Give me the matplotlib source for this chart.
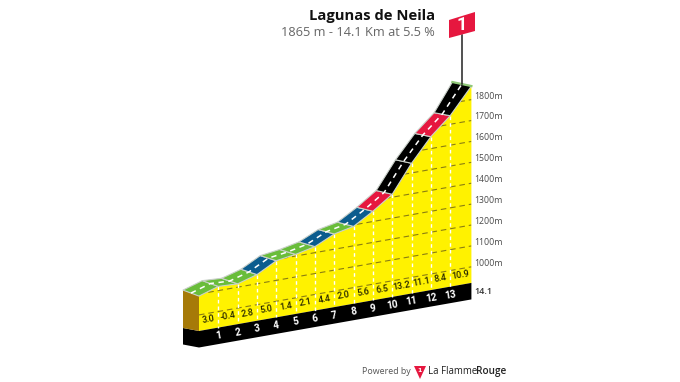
import matplotlib
matplotlib.use("Agg")
import matplotlib.pyplot as plt
from matplotlib.transforms import Affine2D
from matplotlib.patches import Polygon
import numpy as np

title = "Lagunas de Neila"
subtitle = "1865 m - 14.1 Km at 5.5 %"
km = [0, 1, 2, 3, 4, 5, 6, 7, 8, 9, 10, 11, 12, 13, 14.1]
elev = [1090, 1120, 1116, 1144, 1194, 1208, 1229, 1273, 1293, 1349, 1414, 1546, 1657, 1741, 1865]
grades = [3.0, -0.4, 2.8, 5.0, 1.4, 2.1, 4.4, 2.0, 5.6, 6.5, 13.2, 11.1, 8.4, 10.9]
grid_elev = [1000, 1100, 1200, 1300, 1400, 1500, 1600, 1700, 1800]

GREEN, BLUE, RED, BLACK = "#69bd3a", "#0b5c8e", "#e6173f", "#000000"
YELLOW = "#fff200"


def grade_color(g):
    if g < 4:
        return GREEN
    if g < 6:
        return BLUE
    if g < 9:
        return RED
    return BLACK


BASE = 923
proj = Affine2D.from_values(19.32, -3.41, 0, -0.209, 199, 331 + 0.209 * BASE)


def P(k, e):
    return proj.transform(np.column_stack([np.atleast_1d(k), np.atleast_1d(e)]))


def back(pts, k):
    out = np.array(pts, float)
    out[:, 0] += np.interp(k, [0, 9, 13, 14.1], [-16, -16, -16, -19])
    out[:, 1] += np.interp(k, [0, 9, 13, 14.1], [-6, -4, -3, -4])
    return out


fig = plt.figure(figsize=(6.8, 3.82), dpi=100, facecolor="white")
ax = fig.add_axes([0, 0, 1, 1])
ax.set_xlim(0, 680)
ax.set_ylim(382, 0)
ax.axis("off")

km_a = np.array(km, float)
el_a = np.array(elev, float)
front = P(km_a, el_a)
base = P(km_a, np.full(len(km), BASE))
DROP = 16.5

# yellow front face
yellow = Polygon(np.vstack([front, base[::-1]]), closed=True, fc=YELLOW, ec="none", zorder=2)
ax.add_patch(yellow)

# black strip with end cap
bb = base[0] + (-16, -3)
ax.add_patch(Polygon([base[0], base[-1], base[-1] + (0, DROP), base[0] + (0, DROP),
                      bb + (0, DROP), bb], closed=True, fc="black", ec="none", zorder=2))
# brown side face
ax.add_patch(Polygon([front[0], base[0], bb, back(front[:1], [0])[0]], closed=True,
                     fc="#a67a08", ec="none", zorder=2))

# elevation gridlines clipped to yellow
for e in grid_elev:
    p = P([0, 14.1], [e, e])
    ln, = ax.plot(p[:, 0], p[:, 1], color="#8a7d12", lw=0.8, dashes=(5, 3.5), zorder=3)
    ln.set_clip_path(yellow)
    ax.text(474, p[1, 1] - 3.6, f"{e}m", fontsize=6.3, color="#4a4a4a", family="Open Sans",
            ha="left", va="center", zorder=6)

# km verticals
for k, e in zip(km[1:14], elev[1:14]):
    a = P(k, e)[0]
    b = P(k, BASE)[0]
    ax.plot([a[0], b[0]], [a[1], b[1]], color="white", lw=1.0, dashes=(2.6, 2.2), zorder=4)
    ax.text(b[0], b[1] + 8, f"{k}", color="white", fontsize=7.2, fontweight="bold",
            family="Roboto", ha="center", va="center", rotation=10,
            rotation_mode="anchor", zorder=6)

# gradient labels
for i, g in enumerate(grades):
    k = (km[i] + km[i + 1]) / 2
    b = P(k, BASE)[0]
    ax.text(b[0], b[1] - 9.5, f"{g:.1f}", color="#222200", fontsize=6.5, fontweight="medium",
            family="Roboto", ha="center", va="center", rotation=10,
            rotation_mode="anchor", zorder=6)

# road
rear = back(front, km_a)
for i, g in enumerate(grades):
    poly = [front[i], front[i + 1], rear[i + 1], rear[i]]
    ax.add_patch(Polygon(poly, closed=True, fc=grade_color(g), ec="#c9d0c9", lw=0.8,
                         joinstyle="round", zorder=5))
ax.plot([rear[-1, 0], front[-1, 0]], [rear[-1, 1], front[-1, 1]], color="#8fc878", lw=1.6, zorder=6)
mid = (front + rear) / 2
ax.plot(mid[:, 0], mid[:, 1], color="white", lw=1.1, dashes=(3.5, 3), zorder=7)

# flag
top = mid[-1]
ax.plot([top[0], top[0]], [top[1], 35], color="#222222", lw=1.1, zorder=8)
ax.add_patch(Polygon([(449, 20), (475, 12), (475, 31), (449, 38)], closed=True,
                     fc="#e6173f", ec="none", zorder=9))
ax.text(462, 25, "1", color="white", fontsize=13, fontweight="bold", family="Roboto",
        ha="center", va="center", rotation=0, zorder=10)

# end km label
ax.text(474, 291, "14.1", fontsize=6.5, color="#333333", family="Open Sans", fontweight="semibold",
        ha="left", va="center", zorder=6)

# titles
ax.text(435, 16, title, fontsize=10.6, fontweight="bold", family="Open Sans", color="#111111",
        ha="right", va="center")
ax.text(435, 33, subtitle, fontsize=9.2, family="Open Sans", color="#666666",
        ha="right", va="center")

# logo
ax.text(362, 371, "Powered by", fontsize=6.4, family="Open Sans", color="#555555", ha="left", va="center")
ax.add_patch(Polygon([(414, 366), (426, 366), (420, 379)], closed=True, fc="#e6173f", ec="none"))
ax.text(420, 370, "1", fontsize=4.5, color="white", fontweight="bold", ha="center", va="center")
ax.text(428, 371.5, "La Flamme", fontsize=6.9, family="Open Sans", color="#222222", ha="left", va="center")
ax.text(506, 371.5, "Rouge", fontsize=7.2, family="Open Sans", fontweight="semibold", color="#222222",
        ha="right", va="center")

fig.savefig("out.png", dpi=100, facecolor="white")
